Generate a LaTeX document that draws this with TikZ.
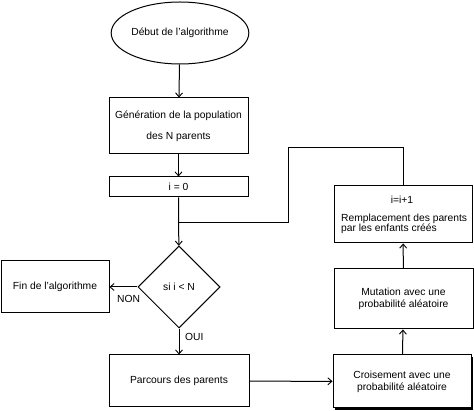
\documentclass[tikz,border=0pt]{standalone}
\usepackage{fontspec}
\setmainfont{Liberation Sans}
\usetikzlibrary{shapes.geometric,arrows.meta}
\begin{document}
\begin{tikzpicture}[x=1pt,y=-1pt,
  every node/.style={font=\fontsize{10.3}{12}\selectfont},
  box/.style={draw,line width=1pt,rectangle,inner sep=0pt},
  conn/.style={line width=1pt},
  arr/.style={conn,-{Straight Barb[length=4pt,width=7pt,line width=0.9pt]}}]
\useasboundingbox (0,0) rectangle (474,411);
\node[draw,line width=1pt,ellipse,minimum width=136pt,minimum height=62pt,inner sep=0pt] (start) at (180,33) {Début de l'algorithme};
\node[box,minimum width=139pt,minimum height=56pt,align=center] (gen) at (178.5,126) {Génération de la population\\[9pt]des N parents};
\node[box,minimum width=139pt,minimum height=20pt] (init) at (178.5,187) {i = 0};
\node[draw,line width=1pt,diamond,minimum width=82pt,minimum height=82pt,inner sep=0pt] (test) at (179,287) {si i < N};
\node[box,minimum width=108pt,minimum height=52pt] (fin) at (55,287) {Fin de l'algorithme};
\node[box,minimum width=140pt,minimum height=52pt] (parc) at (179,381) {Parcours des parents};
\fill (335,357) rectangle (473,410);
\node[box,fill=white,minimum width=138pt,minimum height=53pt,align=center] (crois) at (402,381.5) {Croisement avec une\\probabilité aléatoire};
\node[box,minimum width=139pt,minimum height=60pt,align=center] (mut) at (403.5,299) {Mutation avec une\\probabilité aléatoire};
\node[box,minimum width=138pt,minimum height=57pt] (rep) at (403,214.5) {};
\node (inc) at (402,200) {i=i+1};
\node[anchor=west,align=left,inner sep=0pt,font=\fontsize{10.3}{10.5}\selectfont] (reptxt) at (341,224) {Remplacement des parents\\par les enfants créés};
\node[anchor=north west,inner sep=1pt] (non) at (116,294) {NON};
\node[anchor=north west,inner sep=1pt] (oui) at (184,332) {OUI};
\coordinate (join) at (179,223);
\coordinate (c1) at (403,148);
\coordinate (c2) at (288,148);
\coordinate (c3) at (288,223);
\draw[arr] (start) -- (gen);
\draw[arr] (gen) -- (init);
\draw[arr] (init) -- (test);
\draw[arr] (test) -- (fin);
\draw[arr] (test) -- (parc);
\draw[arr] (parc) -- (crois);
\draw[arr] (crois) -- (mut);
\draw[arr] (mut) -- (rep);
\draw[conn] (rep.north) -- (c1) -- (c2) -- (c3) -- (join);
\end{tikzpicture}
\end{document}
